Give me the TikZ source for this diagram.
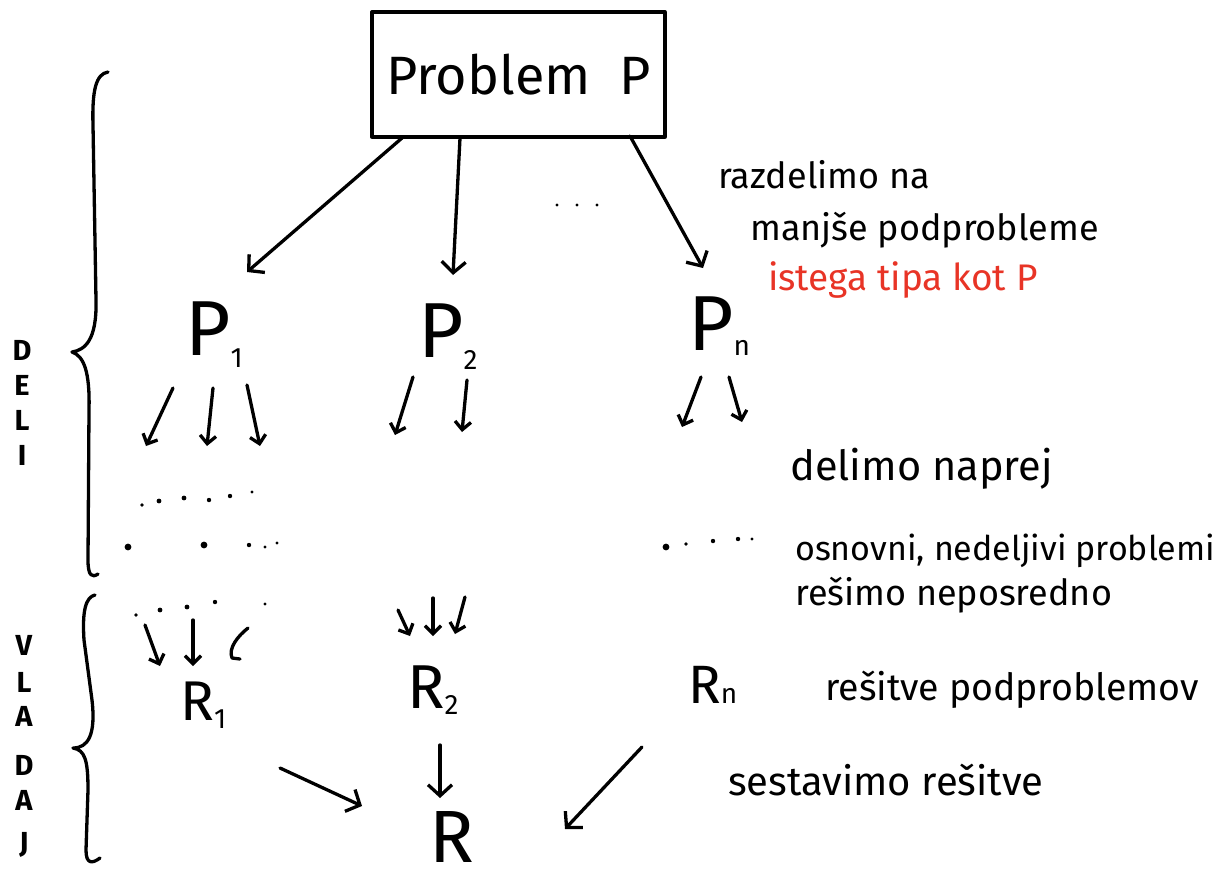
\documentclass[tikz,border=0pt]{standalone}
\usepackage{fontspec}
\setmainfont{Fira Sans}
\usetikzlibrary{arrows.meta}
\definecolor{hred}{RGB}{232,52,38}
\tikzset{
 pen/.style={line width=3.3pt, line cap=round, line join=round},
 arr/.style={pen, -{Straight Barb[length=11pt,width=24pt,line width=3.3pt]}},
 sarr/.style={pen, -{Straight Barb[length=8pt,width=16pt,line width=3.3pt]}},
 lbl/.style={inner sep=0pt, anchor=base west, font=\fontsize{36}{40}\selectfont},
 bigp/.style={inner sep=0pt, anchor=base west, font=\fontsize{78}{80}\selectfont},
 bigr/.style={inner sep=0pt, anchor=base west, font=\fontsize{56}{60}\selectfont},
 side/.style={inner sep=0pt, font=\bfseries\fontsize{29}{30}\selectfont},
}
\newcommand{\hsub}[2][-12pt]{\raisebox{#1}{\fontsize{28}{28}\selectfont #2}}
\begin{document}
\begin{tikzpicture}[x=1pt,y=-1pt]
\useasboundingbox (0,0) rectangle (1222,884);
% top box
\node[draw, pen, minimum width=293pt, minimum height=125pt, inner sep=0pt,
      font=\fontsize{54}{56}\selectfont] (prob) at (518.5,74.5) {Problem\ \ P};
% subproblems
\node[bigp] (p1) at (185,355) {P\hsub{1}};
\node[bigp] (p2) at (418,357) {P\hsub{2}};
\node[bigp] (pn) at (688,350) {P\hsub[-5pt]{n}};
% solutions
\node[bigr] (r1) at (180,720) {R\hsub[-8pt]{1}};
\node[bigr, font=\fontsize{62}{64}\selectfont] (r2) at (407,708) {R\hsub[-6pt]{2}};
\node[bigr, font=\fontsize{54}{56}\selectfont] (rn) at (688,703) {R\hsub[0pt]{n}};
\node[inner sep=0pt, anchor=base west, font=\fontsize{74}{76}\selectfont] (r) at (429,862) {R};
% labels
\node[lbl] (t1) at (718,188) {razdelimo na};
\node[lbl] (t2) at (750,240) {manjše podprobleme};
\node[lbl, text=hred, font=\fontsize{37}{40}\selectfont] (t3) at (768,290) {istega tipa kot P};
\node[lbl, font=\fontsize{41.5}{42}\selectfont] (t4) at (790,480) {delimo naprej};
\node[lbl, font=\fontsize{34}{36}\selectfont] (t5) at (795,560) {osnovni, nedeljivi problemi};
\node[lbl] (t6) at (795,605) {rešimo neposredno};
\node[lbl, font=\fontsize{37.5}{40}\selectfont] (t7) at (825,700) {rešitve podproblemov};
\node[lbl, font=\fontsize{40}{42}\selectfont] (t8) at (728,795) {sestavimo rešitve};
% side letters
\foreach \ch/\yy [count=\i] in {D/350,E/385,L/420,I/455}
  \node[side] (d\i) at (22,\yy) {\ch};
\foreach \ch/\yy [count=\i] in {V/645,L/682,A/716,D/765,A/800,J/845}
  \node[side] (v\i) at (24,\yy) {\ch};
% braces
\draw[pen] (108,72) .. controls (96,74) and (92,90) .. (93,125)
  -- (96,300) .. controls (97,340) and (85,350) .. (72,352)
  .. controls (84,356) and (90,372) .. (89,410)
  -- (88,560) .. controls (88,576) and (92,578) .. (98,574);
\draw[pen] (95,595) .. controls (86,597) and (82,610) .. (84,640)
  -- (92,700) .. controls (96,735) and (88,748) .. (73,748)
  .. controls (85,750) and (88,760) .. (88,790)
  -- (86,850) .. controls (86,864) and (92,864) .. (100,858);
% arrow ends
\coordinate (b1) at (402,138);  \coordinate (e1) at (247,272);
\coordinate (b2) at (460,138);  \coordinate (e2) at (453,275);
\coordinate (b3) at (630,136);  \coordinate (e3) at (703,268);
% arrows from the box
\draw[arr] (b1) -- (e1);
\draw[arr] (b2) -- (e2);
\draw[arr] (b3) -- (e3);
% dots "..."
\foreach \xx in {557,577,597} \fill (\xx,205) circle (1.7pt);
% small arrows from P1, P2, Pn
\foreach \ax/\ay/\bx/\by [count=\i] in {173/388/146/446, 213/388/207/446, 247/385/260/446,
   413/377/395/435, 467/380/462/432, 701/377/682/427, 729/377/742/422}
  \draw[sarr] (\ax,\ay) coordinate (s\i) -- (\bx,\by) coordinate (f\i);
% dotted rows
\foreach \xx/\yy/\r in {142/505/1.8,159/501/2.4,184/498/2.4,209/500/2.2,230/496/2.2,252/492/1.6,
  128/547/3.4,204/545/3.4,249/545/2.2,265/547/1.7,277/543/1.7,
  666/547/3.4,686/544/1.9,713/541/2.2,738/539/2.2,752/539/1.7,
  136/615/1.9,160/610/2.4,187/607/2.4,215/602/2.2,265/604/1.7}
  \fill (\xx,\yy) circle (\r pt);
% arrows into R1, R2
\foreach \ax/\ay/\bx/\by [count=\i] in {145/625/160/666, 193/620/193/666,
   398/610/410/636, 433/598/433/636, 465/597/455/634}
  \draw[sarr] (\ax,\ay) coordinate (g\i) -- (\bx,\by) coordinate (h\i);
\draw[pen] (248,628) coordinate (hk) .. controls (238,636) and (228,648) .. (232,658) -- (240,659);
% combine
\coordinate (c1) at (280,768); \coordinate (c2) at (440,745); \coordinate (c3) at (642,747);
\coordinate (k1) at (362,806); \coordinate (k2) at (440,798); \coordinate (k3) at (565,829);
\draw[arr] (c1) -- (k1);
\draw[arr] (c2) -- (k2);
\draw[arr] (c3) -- (k3);
\end{tikzpicture}
\end{document}
